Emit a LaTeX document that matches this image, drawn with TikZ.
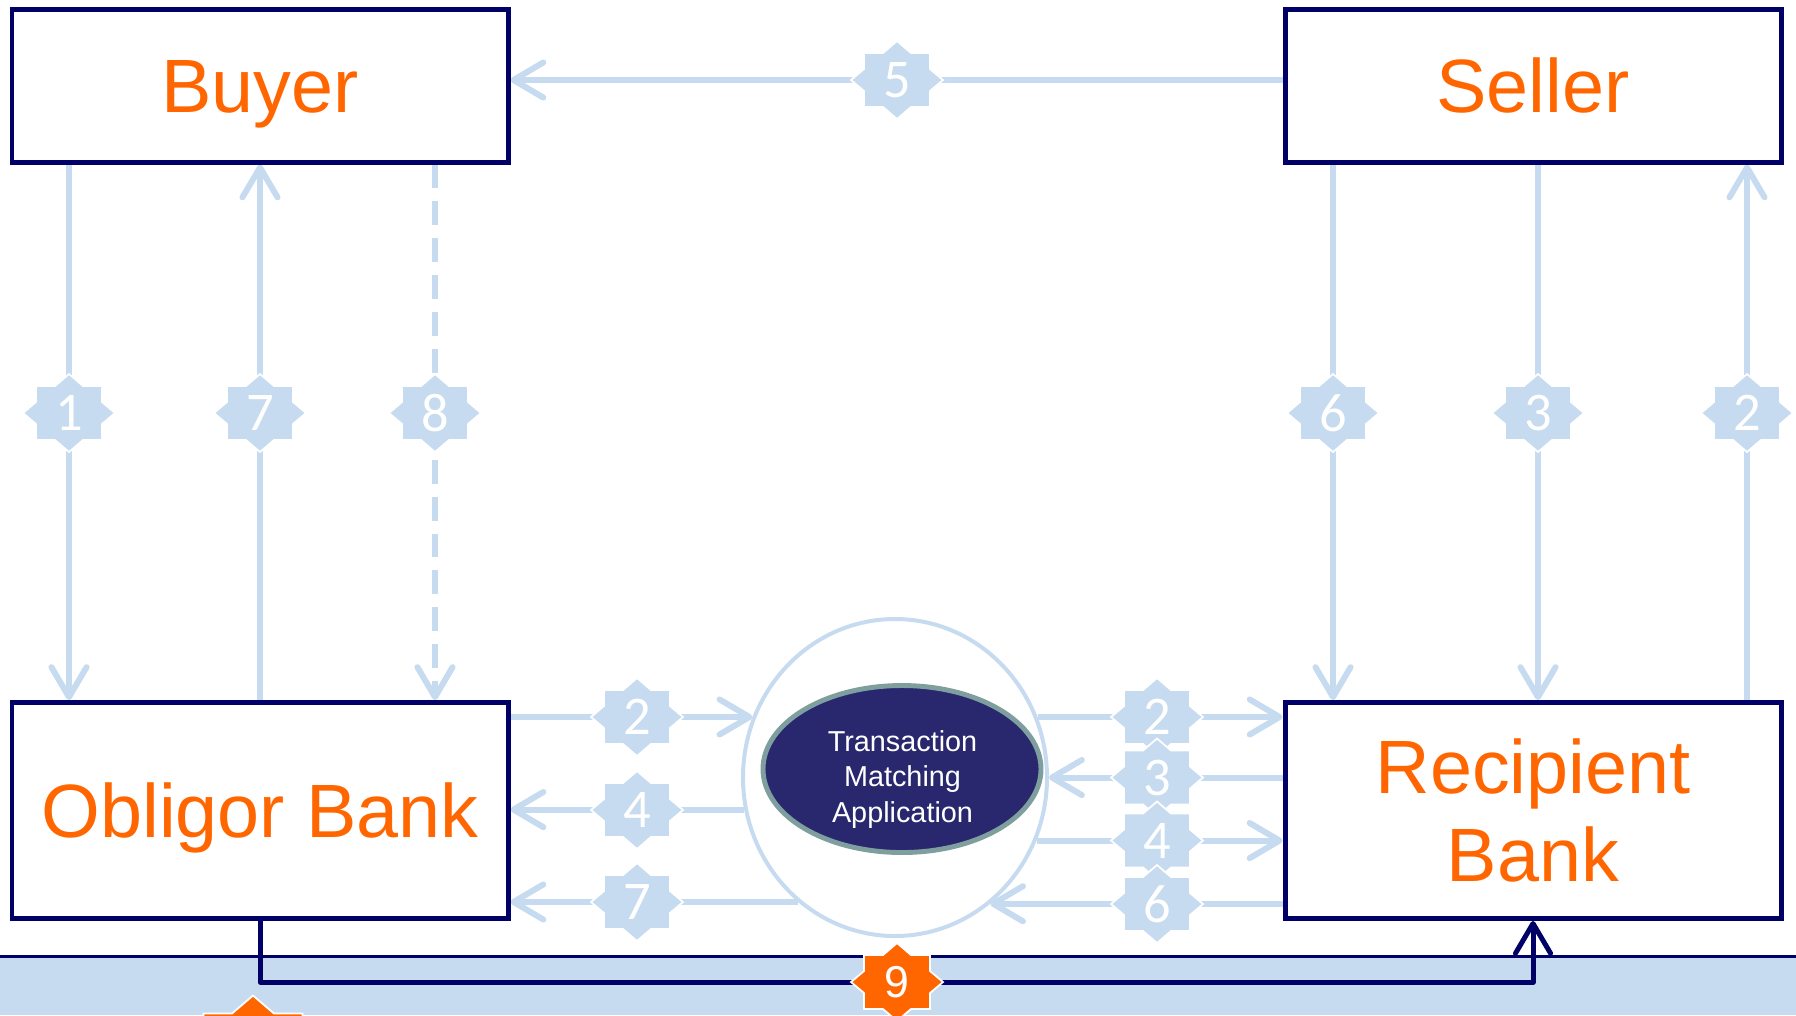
\documentclass[tikz,border=0pt]{standalone}
\usepackage{fontspec}
\setmainfont{Liberation Sans}
\newfontfamily\numfont{Carlito}
\usetikzlibrary{arrows.meta,shapes.geometric,backgrounds}
\definecolor{navy}{HTML}{000066}
\definecolor{tang}{HTML}{FF6600}
\definecolor{pale}{HTML}{C6DBEF}
\definecolor{ink}{HTML}{29286F}
\definecolor{slate}{HTML}{7F9E9E}
\tikzset{
  party/.style={draw=navy, fill=white, line width=1.42pt, inner sep=0pt,
                minimum width=4.96cm, align=center, text=tang,
                font=\fontsize{21.5}{25.3}\selectfont},
  oneline/.style={text height=15.4pt, text depth=0pt},
  hubring/.style={ellipse, draw=pale, line width=1.14pt, inner sep=0pt,
                  minimum width=3.04cm, minimum height=3.17cm},
  app/.style={ellipse, fill=ink, draw=slate, line width=1.4pt, inner sep=0pt,
              minimum width=2.78cm, minimum height=1.67cm},
  applbl/.style={text=white, align=center, font=\fontsize{8.2}{10}\selectfont},
  num/.style={text=white, inner sep=0pt, font=\numfont\fontsize{15.5}{16}\selectfont},
  flow/.style={draw=pale, line width=1.7pt, -{Straight Barb[length=8.5pt,width=10pt,round]}},
  nine/.style={draw=navy, line width=1.42pt, line join=round,
               -{Straight Barb[length=8.5pt,width=10pt,round]}}
}
\newcommand{\ninefont}{\normalfont\fontsize{12.7}{14}\selectfont}
\newcommand{\badge}[4][]{%
  \fill[shift={(#2)}, fill=pale, draw=white, line width=.5pt, #1]
    (0,.39) -- (.14,.27) -- (.33,.27) -- (.33,.11) -- (.46,0) -- (.33,-.11)
    -- (.33,-.27) -- (.14,-.27) -- (0,-.39) -- (-.14,-.27) -- (-.33,-.27)
    -- (-.33,-.11) -- (-.46,0) -- (-.33,.11) -- (-.33,.27) -- (-.14,.27) -- cycle;
  \node[num] (#3) at (#2) {#4};}

\begin{document}
\begin{tikzpicture}[x=1cm,y=1cm]
  \useasboundingbox (0,0) rectangle (17.96,-10.15);
  \clip (0,0) rectangle (17.96,-10.15);

  \node[party, oneline, minimum height=1.53cm] (buyer) at (2.60,-0.855) {Buyer};
  \node[party, oneline, minimum height=1.53cm] (seller) at (15.33,-0.855) {Seller};
  \node[party, oneline, minimum height=2.16cm] (obligor) at (2.60,-8.105) {Obligor Bank};
  \node[party, minimum height=2.16cm] (recip) at (15.33,-8.105) {Recipient\\Bank};

  \node[hubring] (hub) at (8.95,-7.775) {};
  \node[app] (app) at (9.02,-7.69) {};
  \node[applbl] (applbl) at (9.025,-7.795) {Transaction\\Matching\\Application};

  \badge{8.97,-0.80}{t5}{5}
  \badge{0.69,-4.13}{v1}{1}
  \badge{2.60,-4.13}{v7}{7}
  \badge{4.35,-4.13}{v8}{8}
  \badge{13.33,-4.13}{v6}{6}
  \badge{15.38,-4.13}{v3}{3}
  \badge{17.47,-4.13}{v2}{2}
  \badge{6.37,-7.17}{l2}{2}
  \badge{6.37,-8.10}{l4}{4}
  \badge{6.37,-9.02}{l7}{7}
  \badge{11.57,-7.17}{r2}{2}
  \badge{11.57,-7.775}{r3}{3}
  \badge{11.57,-8.405}{r4}{4}
  \badge{11.57,-9.04}{r6}{6}
  \badge[fill=tang]{8.97,-9.82}{s9}{\ninefont 9}
  \badge[fill=tang, scale=1.5]{2.53,-10.54}{tail}{}

  \begin{scope}[on background layer]
    \fill[pale] (0,-9.567) rectangle (17.96,-10.15);
    \draw[navy, line width=.75pt] (0,-9.567) -- (17.96,-9.567);

    \draw[flow] (buyer.south -| v1) -- (obligor.north -| v1);
    \draw[flow] (obligor.north) -- (buyer.south);
    \draw[flow, dash pattern=on 6.8pt off 3.7pt] (buyer.south -| v8) -- (obligor.north -| v8);
    \draw[flow] (seller.south -| v6) -- (recip.north -| v6);
    \draw[flow] (seller.south -| v3) -- (recip.north -| v3);
    \draw[flow] (recip.north -| v2) -- (seller.south -| v2);
    \draw[flow] (seller.west |- t5) -- (buyer.east |- t5);

    \draw[flow] (obligor.east |- hub.157) -- (hub.157);
    \draw[flow] (hub.192) -- (obligor.east |- hub.192);
    \draw[flow] (hub.232) -- (obligor.east |- hub.232);
    \draw[flow] (hub.23) -- (recip.west |- hub.23);
    \draw[flow] (recip.west |- hub.east) -- (hub.east);
    \draw[flow] (hub.336) -- (recip.west |- hub.336);
    \draw[flow] (recip.west |- hub.307) -- (hub.307);

    \draw[nine] (obligor.south) |- (s9) -| (recip.south);
  \end{scope}
\end{tikzpicture}
\end{document}
